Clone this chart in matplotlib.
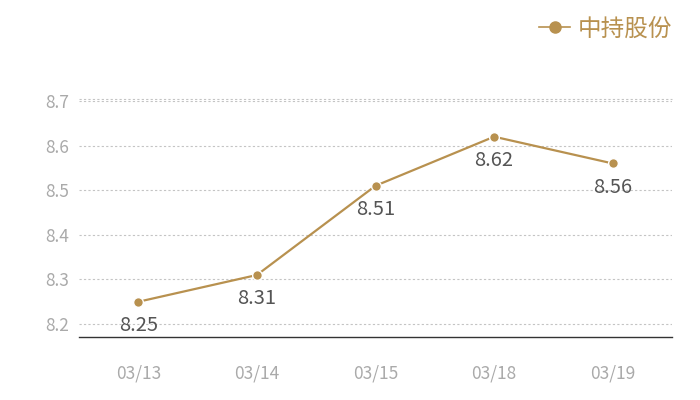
import matplotlib
matplotlib.use("Agg")
import matplotlib.pyplot as plt
from matplotlib.lines import Line2D

plt.rcParams['font.family'] = ['Noto Sans CJK SC', 'DejaVu Sans']

categories = ["03/13", "03/14", "03/15", "03/18", "03/19"]
values = [8.25, 8.31, 8.51, 8.62, 8.56]
series_name = "中持股份"
yticks = [8.2, 8.3, 8.4, 8.5, 8.6, 8.7]

color = "#b8914f"
fig = plt.figure(figsize=(7, 4), dpi=100)
ax = fig.add_axes([0.1129, 0.1575, 0.8471, 0.59])
x = list(range(len(categories)))
ax.plot(x, values, color=color, lw=1.6, marker='o', ms=7,
        markeredgecolor='white', markeredgewidth=1, zorder=3)
for xi, v in zip(x, values):
    ax.annotate(f"{v:.2f}", (xi, v), xytext=(0, -17), textcoords='offset points',
                ha='center', va='center', fontsize=14.5, color='#555555', zorder=4)

ax.set_xlim(-0.5, len(categories) - 0.5)
ax.set_ylim(8.171, 8.7)
ax.set_yticks(yticks)
ax.set_yticklabels([f"{t:.1f}" for t in yticks])
ax.set_xticks(x)
ax.set_xticklabels(categories)
ax.tick_params(axis='both', length=0, labelsize=12.5, labelcolor='#aaaaaa')
ax.tick_params(axis='x', pad=20)
ax.tick_params(axis='y', pad=7)
ax.grid(axis='y', color='#c4c4c4', linestyle=(0, (2, 2)), lw=0.8)
ax.axhline(8.7 + 0.004, color='#c4c4c4', linestyle=(0, (2, 2)), lw=0.8, clip_on=False)
for s in ['top', 'right', 'left']:
    ax.spines[s].set_visible(False)
ax.spines['bottom'].set_color('#333333')
ax.spines['bottom'].set_linewidth(1)

handle = Line2D([], [], color=color, lw=1.2, marker='o', ms=8, markeredgecolor=color)
leg = fig.legend([handle], [series_name], loc='upper right', bbox_to_anchor=(0.99, 1.01),
                 frameon=False, fontsize=17, handlelength=1.3, handletextpad=0.3)
for t in leg.get_texts():
    t.set_color(color)

fig.savefig("out.png", dpi=100)
